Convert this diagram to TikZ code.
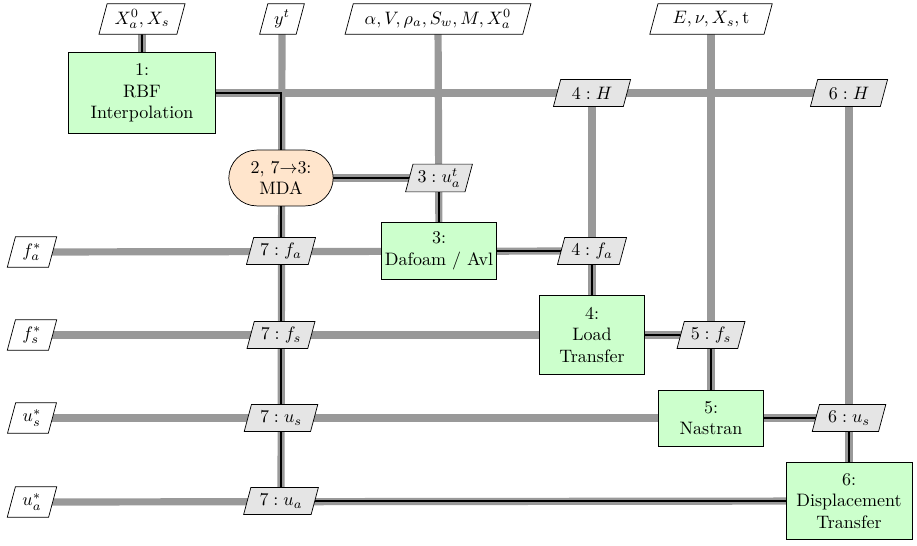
\documentclass[tikz,border=0pt]{standalone}
\usetikzlibrary{shapes.geometric,shapes.misc,backgrounds}
\tikzset{
  func/.style={draw,fill=green!20,align=center,inner sep=2pt},
  mdabox/.style={draw,fill=orange!20,rounded rectangle,align=center,inner sep=2pt,minimum width=62pt,minimum height=31pt},
  datain/.style={draw,fill=white,trapezium,trapezium left angle=75,trapezium right angle=105,inner sep=2.5pt,minimum height=17pt},
  datamid/.style={draw,fill=black!10,trapezium,trapezium left angle=75,trapezium right angle=105,inner sep=2.5pt,minimum height=15pt},
  dataline/.style={color=black!40,line width=4pt},
  process/.style={black,line width=1pt}
}
\begin{document}
\begin{tikzpicture}[x=0.5556pt,y=0.5556pt,yscale=-1,xscale=1]
\useasboundingbox (0,0) rectangle (917,545);

% Inputs
\node[datain] (x0) at (142,19) {$X^0_a, X_s$};
\node[datain] (yt) at (282,19) {$y^t$};
\node[datain] (aero) at (438,19) {$\alpha, V, \rho_a, S_w, M, X^0_a$};
\node[datain] (struct) at (711,19) {$E, \nu, X_s, \mathrm{t}$};
\node[datain] (fain) at (32,252) {$f^*_a$};
\node[datain] (fsin) at (32,335) {$f^*_s$};
\node[datain] (usin) at (32,418) {$u^*_s$};
\node[datain] (uain) at (32,502) {$u^*_a$};

% Disciplines
\node[func,minimum width=82pt,minimum height=45pt] (rbf) at (142,93) {1:\\RBF\\Interpolation};
\node[mdabox] (mda) at (281,178) {2, 7$\to$3:\\MDA};
\node[func,minimum width=59pt,minimum height=32pt] (cfd) at (439,251) {3:\\Dafoam / Avl};
\node[func,minimum width=58pt,minimum height=44pt] (load) at (592,335) {4:\\Load\\Transfer};
\node[func,minimum width=58pt,minimum height=31pt] (fem) at (711,418) {5:\\Nastran};
\node[func,minimum width=70pt,minimum height=43pt] (disp) at (849,501) {6:\\Displacement\\Transfer};

% Coupling data
\node[datamid] (h4) at (592,93) {$4: H$};
\node[datamid] (h6) at (849,93) {$6: H$};
\node[datamid] (uat) at (439,178) {$3: u^t_a$};
\node[datamid] (fa7) at (281,251) {$7: f_a$};
\node[datamid] (fa4) at (592,251) {$4: f_a$};
\node[datamid] (fs7) at (281,335) {$7: f_s$};
\node[datamid] (fs5) at (711,335) {$5: f_s$};
\node[datamid] (us7) at (281,418) {$7: u_s$};
\node[datamid] (us6) at (849,418) {$6: u_s$};
\node[datamid] (ua7) at (281,501) {$7: u_a$};

\begin{scope}[on background layer]
% Data lines
\draw[dataline] (x0.center) -- (rbf.center);
\draw[dataline] (yt.center) -- (ua7.center);
\draw[dataline] (aero.center) -- (cfd.center);
\draw[dataline] (h4.center) -- (load.center);
\draw[dataline] (struct.center) -- (fem.center);
\draw[dataline] (h6.center) -- (disp.center);
\draw[dataline] (rbf.center) -- (h6.center);
\draw[dataline] (mda.center) -- (uat.center);
\draw[dataline] (fain.center) -- (fa4.center);
\draw[dataline] (fsin.center) -- (fs5.center);
\draw[dataline] (usin.center) -- (us6.center);
\draw[dataline] (uain.center) -- (disp.center);
% Process lines
\draw[process] (x0.center) -- (rbf.center);
\draw[process] (rbf.center) -| (mda.center);
\draw[process] (mda.center) -- (uat.center) -- (cfd.center) -- (fa4.center) -- (load.center) -- (fs5.center) -- (fem.center) -- (us6.center) -- (disp.center) -- (ua7.center) -- (mda.center);
\end{scope}

\end{tikzpicture}
\end{document}
